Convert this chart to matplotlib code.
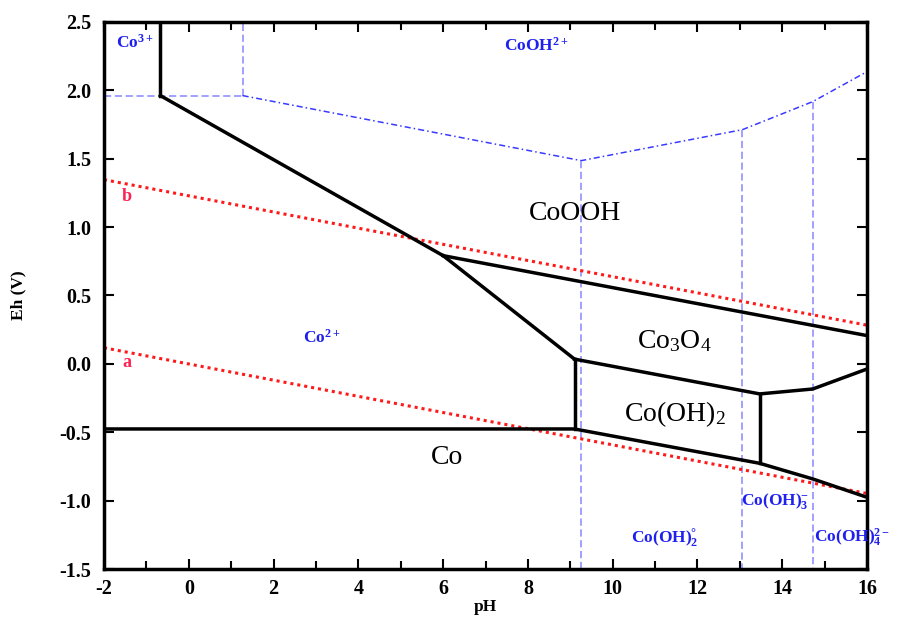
import matplotlib
matplotlib.use("Agg")
import matplotlib.pyplot as plt
from matplotlib.ticker import MultipleLocator

plt.rcParams["font.family"] = ["Liberation Serif", "DejaVu Serif"]
plt.rcParams["mathtext.fontset"] = "custom"
plt.rcParams["mathtext.rm"] = "Liberation Serif"
plt.rcParams["mathtext.it"] = "Liberation Serif:italic"
plt.rcParams["mathtext.bf"] = "Liberation Serif:bold"
plt.rcParams["axes.unicode_minus"] = False

# Axis ranges and ticks
ph_range = [-2, 16]
eh_range = [-1.5, 2.5]

# Water stability lines (a: H2 evolution, b: O2 evolution)
water_a_ph = [-2, 16]
water_a_eh = [0.118, -0.946]
water_b_ph = [-2, 16]
water_b_eh = [1.346, 0.283]

# Solid-phase boundaries (black)
co3_co2_ph = [-0.67, -0.67]
co3_co2_eh = [2.5, 1.96]
co2_cooh_ph = [-0.67, 6.0]
co2_cooh_eh = [1.96, 0.791]
co2_co3o4_ph = [6.0, 9.10]
co2_co3o4_eh = [0.791, 0.035]
cooh_co3o4_ph = [6.0, 16.0]
cooh_co3o4_eh = [0.791, 0.207]
co2_cooh2_ph = [9.10, 9.10]
co2_cooh2_eh = [0.035, -0.475]
co3o4_cooh2_ph = [9.10, 13.47, 14.72, 16.0]
co3o4_cooh2_eh = [0.035, -0.219, -0.183, -0.037]
cooh2_right_ph = [13.47, 13.47]
cooh2_right_eh = [-0.219, -0.726]
co_upper_ph = [-2.0, 9.10, 13.47, 14.72, 16.0]
co_upper_eh = [-0.475, -0.475, -0.726, -0.84, -0.974]

# Aqueous-species boundaries (blue dashed)
co3_cooh_h_ph = [-2.0, 1.27]
co3_cooh_h_eh = [1.96, 1.96]
co3_cooh_v_ph = [1.27, 1.27]
co3_cooh_v_eh = [1.96, 2.5]
aq_upper_ph = [1.27, 9.26, 13.06, 14.72, 16.0]
aq_upper_eh = [1.96, 1.485, 1.711, 1.916, 2.135]
aq_vert_ph = [9.26, 13.06, 14.72]
aq_vert_top = [1.485, 1.711, 1.916]

# Region labels
solid_labels = ["CoOOH", r"$\mathregular{Co_3O_4}$", r"$\mathregular{Co(OH)_2}$", "Co"]
solid_ph = [9.1, 11.46, 11.46, 6.08]
solid_eh = [1.098, 0.17, -0.363, -0.684]

aq_labels = [r"$\mathregular{Co^{3+}}$", r"$\mathregular{CoOH^{2+}}$", r"$\mathregular{Co^{2+}}$",
             r"$\mathregular{Co(OH)_3^{-}}$", r"$\mathregular{Co(OH)_2^{°}}$",
             r"$\mathregular{Co(OH)_4^{2-}}$"]
aq_ph = [-1.27, 8.2, 3.14, 13.84, 11.23, 15.64]
aq_eh = [2.347, 2.325, 0.19, -0.998, -1.27, -1.27]

water_labels = ["a", "b"]
water_label_ph = [-1.46, -1.46]
water_label_eh = [0.01, 1.22]

fig = plt.figure(figsize=(8.98, 6.19), dpi=100)
ax = fig.add_axes([0.1158, 0.0803, 0.8497, 0.8847])

blue_light = "#9a9aff"
blue = "#3a3aff"
red = "#ff1a1a"

# blue dashed aqueous boundaries
ax.plot(co3_cooh_h_ph, co3_cooh_h_eh, color=blue_light, lw=1.3, ls=(0, (4, 2)))
ax.plot(co3_cooh_v_ph, co3_cooh_v_eh, color=blue_light, lw=1.3, ls=(0, (4, 2)))
ax.plot(aq_upper_ph, aq_upper_eh, color=blue, lw=1.1, ls=(0, (4, 2, 1, 2)))
for p, top in zip(aq_vert_ph, aq_vert_top):
    ax.plot([p, p], [top, eh_range[0]], color=blue_light, lw=1.3, ls=(0, (4, 2)))

# water lines
ax.plot(water_a_ph, water_a_eh, color=red, lw=2.2, ls=(0, (1, 1.3)))
ax.plot(water_b_ph, water_b_eh, color=red, lw=2.2, ls=(0, (1, 1.3)))

# solid boundaries
for xs, ys in [(co3_co2_ph, co3_co2_eh), (co2_cooh_ph, co2_cooh_eh),
               (co2_co3o4_ph, co2_co3o4_eh), (cooh_co3o4_ph, cooh_co3o4_eh),
               (co2_cooh2_ph, co2_cooh2_eh), (co3o4_cooh2_ph, co3o4_cooh2_eh),
               (cooh2_right_ph, cooh2_right_eh), (co_upper_ph, co_upper_eh)]:
    ax.plot(xs, ys, color="black", lw=2.5, solid_joinstyle="miter")

for t, x, y in zip(solid_labels, solid_ph, solid_eh):
    ax.text(x, y, t, fontsize=20, color="black", ha="center", va="center")
for t, x, y in zip(aq_labels, aq_ph, aq_eh):
    ax.text(x, y, t, fontsize=12.5, color="#2020ee", fontweight="bold",
            ha="center", va="center", clip_on=False)
for t, x, y in zip(water_labels, water_label_ph, water_label_eh):
    ax.text(x, y, t, fontsize=13, color="#ff2255", fontweight="bold",
            ha="center", va="center")

ax.set_xlim(ph_range)
ax.set_ylim(eh_range)
ax.xaxis.set_major_locator(MultipleLocator(2))
ax.xaxis.set_minor_locator(MultipleLocator(1))
ax.yaxis.set_major_locator(MultipleLocator(0.5))
ax.yaxis.set_major_formatter(plt.FuncFormatter(lambda v, _: f"{v:.1f}"))
ax.tick_params(which="both", direction="in", top=True, right=True, width=1.5,
               labelsize=14.5)
ax.tick_params(axis="x", pad=7)
ax.tick_params(axis="y", pad=9)
ax.tick_params(which="major", length=7)
ax.tick_params(which="minor", length=6)
for lab in ax.get_xticklabels() + ax.get_yticklabels():
    lab.set_fontweight("bold")
for s in ax.spines.values():
    s.set_linewidth(2.5)

ax.set_xlabel("pH", fontsize=12.5, fontweight="bold", labelpad=0)
ax.set_ylabel("Eh (V)", fontsize=12.5, fontweight="bold", labelpad=24)

fig.savefig("out.png", dpi=100)
